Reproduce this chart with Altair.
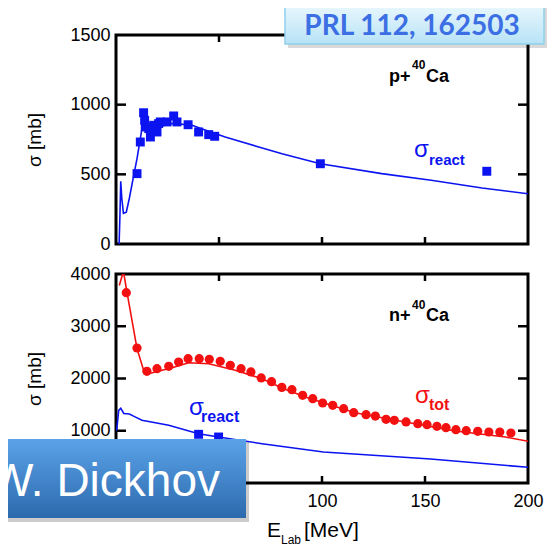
import altair as alt
import pandas as pd

W, H = 412, 209
FONT = "Liberation Sans"

# ---------------- data ----------------
# p + 40Ca : reaction cross section (experiment, squares)
p_exp_E = [10.2, 11.8, 13.4, 13.9, 14.2, 15.9, 16.7, 18.3, 19.9, 20.7, 21.5, 24.8, 28.0, 29.6, 35.0, 40.1, 45.0, 47.9, 99.2, 180.0]
p_exp_sig = [505, 732, 942, 888, 840, 828, 768, 852, 804, 864, 876, 876, 919, 876, 856, 804, 785, 773, 576, 522]
# p + 40Ca : theory curve
p_th_E = [1.5, 1.9, 2.3, 2.8, 3.6, 5.0, 6.5, 8.6, 10.2, 12.6, 15.9, 20.7, 28.8, 36.9, 45.0, 53.0, 69.3, 80.6, 99.2, 129.0, 153.0, 177.7, 200.0]
p_th_sig = [0, 200, 450, 330, 220, 228, 330, 493, 612, 828, 840, 864, 864, 852, 809, 768, 696, 648, 576, 505, 457, 402, 361]

# n + 40Ca : total cross section (experiment, circles)
n_tot_E = [5.0, 10.2, 15.0, 19.9, 25.6, 30.4, 35.0, 40.4, 45.3, 50.6, 55.5, 60.7, 65.5, 70.5, 75.5, 80.5,
           85.4, 90.6, 95.5, 100.3, 105.2, 110.5, 115.4, 121.4, 125.9, 131.1, 135.1, 140.8, 146.5, 151.0,
           155.8, 160.2, 165.0, 170.0, 175.6, 181.0, 186.3, 191.7]
n_tot_sig = [3642, 2584, 2138, 2188, 2233, 2316, 2380, 2380, 2367, 2329, 2253, 2188, 2125, 2010, 1940, 1830,
             1786, 1678, 1614, 1531, 1487, 1422, 1346, 1307, 1282, 1219, 1200, 1168, 1135, 1116,
             1085, 1058, 1020, 1001, 990, 976, 976, 957]
# n + 40Ca : total cross section theory
n_tot_th_E = [1.6, 3.6, 5.3, 10.2, 13.4, 15.9, 22.3, 25.6, 35.3, 45.0, 57.9, 70.9, 80.6, 91.9, 116.0, 140.4, 164.7, 189.0, 200.0]
n_tot_th_sig = [3780, 4050, 3656, 2571, 2157, 2092, 2157, 2188, 2300, 2283, 2157, 1996, 1818, 1646, 1346, 1168, 995, 880, 800]
# n + 40Ca : reaction cross section theory and experiment
n_re_th_E = [0.3, 1.3, 2.3, 3.8, 6.5, 9.0, 12.6, 25.6, 40.1, 49.8, 70.9, 100.7, 152.7, 200.0]
n_re_th_sig = [1000, 1391, 1430, 1330, 1320, 1270, 1200, 1104, 944, 880, 752, 593, 459, 300]
n_re_exp_E = [40.1, 49.8]
n_re_exp_sig = [932, 880]

x_ticks = [50, 100, 150]
x_labels = [0, 50, 100, 150, 200]
top_y_ticks = [500, 1000]
top_y_labels = [0, 500, 1000, 1500]
bot_y_ticks = [1000, 2000, 3000]
bot_y_labels = [0, 1000, 2000, 3000, 4000]

one = pd.DataFrame({"k": [0]})


def xenc(axis):
    return alt.X("E:Q", scale=alt.Scale(domain=[0, 200], nice=False, zero=False), axis=axis)


def yenc(domain, axis):
    return alt.Y("sig:Q", scale=alt.Scale(domain=domain, nice=False, zero=False), axis=axis)


def yaxis(values):
    return alt.Axis(values=values, format="d", title="σ [mb]", ticks=False, tickSize=0, domain=False,
                    grid=False, labelFont=FONT, labelFontSize=18, labelColor="black", labelPadding=6,
                    labelOverlap=False, titleFont=FONT, titleFontSize=19, titleFontWeight="normal",
                    titleColor="black", titlePadding=25, zindex=0)


xaxis_bottom = alt.Axis(values=x_labels, format="d", title=None, ticks=False, tickSize=0, domain=False,
                        grid=False, labelFont=FONT, labelFontSize=18, labelColor="black", labelPadding=9,
                        labelFlush=False, labelOverlap=False, zindex=0)


def txt(s, x, y, size, color="black", weight="normal", align="left", font=FONT):
    return alt.Chart(one).mark_text(text=s, font=font, fontSize=size, fontWeight=weight, color=color,
                                    align=align, baseline="alphabetic").encode(x=alt.value(x), y=alt.value(y))


def box(x1, x2, y1, y2, fill, stroke=None, opacity=1.0):
    kw = dict(fill=fill, opacity=opacity)
    if stroke:
        kw.update(stroke=stroke, strokeWidth=1.5)
    return alt.Chart(one).mark_rect(**kw).encode(
        x=alt.value(x1), x2=alt.value(x2), y=alt.value(y1), y2=alt.value(y2))


def panel(domain, ylabels, yticks, xaxis, layers):
    ya = yaxis(ylabels)
    xt = pd.DataFrame({"E": x_ticks})
    yt = pd.DataFrame({"sig": yticks})
    rule = dict(color="black", strokeWidth=2.5)
    ticks = [
        alt.Chart(xt).mark_rule(**rule).encode(x=xenc(xaxis), y=alt.value(H), y2=alt.value(H - 7)),
        alt.Chart(xt).mark_rule(**rule).encode(x=xenc(xaxis), y=alt.value(0), y2=alt.value(7)),
        alt.Chart(yt).mark_rule(**rule).encode(y=yenc(domain, ya), x=alt.value(0), x2=alt.value(10)),
        alt.Chart(yt).mark_rule(**rule).encode(y=yenc(domain, ya), x=alt.value(W), x2=alt.value(W - 10)),
    ]
    data_layers = []
    for kind, E, S, color in layers:
        df = pd.DataFrame({"E": E, "sig": S})
        if kind == "line":
            m = alt.Chart(df).mark_line(color=color, strokeWidth=1.6, clip=True)
        elif kind == "square":
            m = alt.Chart(df).mark_square(color=color, size=80, opacity=1, clip=True)
        else:
            m = alt.Chart(df).mark_circle(color=color, size=85, opacity=1, clip=True)
        data_layers.append(m.encode(x=xenc(xaxis), y=yenc(domain, ya)))
    return ticks + data_layers


BLUE = "#0b14f0"
RED = "#f21010"

# ---------------- top panel ----------------
top_layers = panel([0, 1500], top_y_labels, top_y_ticks, None, [
    ("line", p_th_E, p_th_sig, BLUE),
    ("square", p_exp_E, p_exp_sig, BLUE),
])
top_text = [
    txt("p+", 273, 47, 18, weight="bold"),
    txt("40", 296, 34, 12, weight="bold"),
    txt("Ca", 310, 47, 18, weight="bold"),
    txt("σ", 298, 122, 24, color=BLUE),
    txt("react", 313, 130, 15, color=BLUE, weight="bold"),
]
prl_grad = alt.LinearGradient(gradient="linear", x1=0, x2=0, y1=0, y2=1,
                              stops=[alt.GradientStop(offset=0, color="#eef9fe"),
                                     alt.GradientStop(offset=1, color="#b7e3f6")])
top_overlay = [
    box(172, 431, -30, 13, "#000000", opacity=0.15),
    box(169, 428, -34, 9, prl_grad, stroke="#8fd0ec"),
    txt("PRL 112, 162503", 296, 0, 28, color="#3b6fe3", weight="bold", align="center", font="Lato"),
    # invisible frame anchors that fix the chart's outer bounds
    box(-130, -125, -50, -45, "white", opacity=0),
    box(425, 430, -50, -45, "white", opacity=0),
]
top = alt.layer(*(top_layers + top_text + top_overlay)).properties(width=W, height=H)

# ---------------- bottom panel ----------------
bot_layers = panel([0, 4000], bot_y_labels, bot_y_ticks, xaxis_bottom, [
    ("line", n_tot_th_E, n_tot_th_sig, RED),
    ("line", n_re_th_E, n_re_th_sig, BLUE),
    ("circle", n_tot_E, n_tot_sig, RED),
    ("square", n_re_exp_E, n_re_exp_sig, BLUE),
])
bot_text = [
    txt("n+", 273, 47, 18, weight="bold"),
    txt("40", 296, 35, 12, weight="bold"),
    txt("Ca", 310, 47, 18, weight="bold"),
    txt("σ", 73, 141, 24, color=BLUE),
    txt("react", 85, 148, 16, color=BLUE, weight="bold"),
    txt("σ", 299, 129, 24, color=RED),
    txt("tot", 313, 136, 16, color=RED, weight="bold"),
    txt("E", 151, 263, 21),
    txt("Lab", 165, 270, 12),
    txt("[MeV]", 188, 263, 21),
]
dk_grad = alt.LinearGradient(gradient="linear", x1=0, x2=0, y1=0, y2=1,
                             stops=[alt.GradientStop(offset=0, color="#5aa2e8"),
                                    alt.GradientStop(offset=1, color="#2d6aad")])
bot_overlay = [
    box(-114, 133, 168, 248, "#000000", opacity=0.2),
    box(-114, 130, 165, 244, dk_grad),
    txt("W. Dickhov", 104, 222, 46, color="white", align="right"),
    box(-130, -125, 275, 280, "white", opacity=0),
]
bottom = alt.layer(*(bot_layers + bot_text + bot_overlay)).properties(width=W, height=H)

chart = alt.vconcat(top, bottom, spacing=30, bounds="flush").properties(
    padding={"left": -24, "top": -25, "right": -2, "bottom": -8},
).configure(background="white").configure_view(stroke="black", strokeWidth=3, fill="white")

chart.save("out.html", embed_options={"renderer": "svg", "actions": False})
